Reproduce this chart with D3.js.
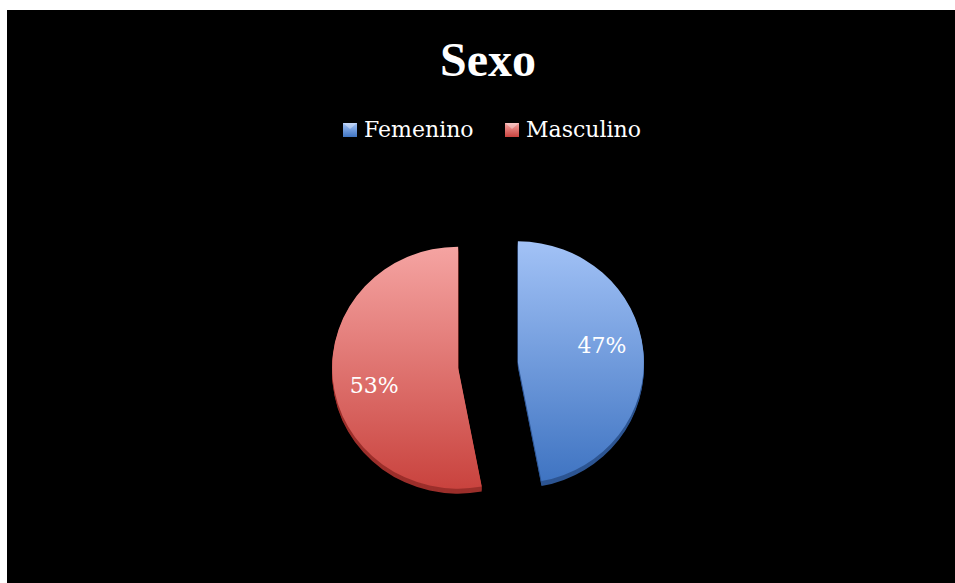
<!DOCTYPE html>
<html>
<head>
<meta charset="utf-8">
<script src="https://cdn.jsdelivr.net/npm/d3@7/dist/d3.min.js"></script>
<style>
  html, body { margin: 0; padding: 0; background: #ffffff; }
  svg { display: block; }
</style>
</head>
<body>
<svg id="chart" width="955" height="583"></svg>
<script>
// Chart data
const title = "Sexo";
const categories = ["Femenino", "Masculino"];
const values = [47, 53];
const labels = ["47%", "53%"];

// Colours: [light top, dark bottom, side]
const palette = {
  "Femenino":  ["#a2c2f6", "#3f74c2", "#2d5592"],
  "Masculino": ["#f5a4a2", "#c9433e", "#9c2f2b"]
};

const W = 955, H = 583;
const svg = d3.select("#chart");

// Dark panel behind the chart
svg.append("rect").attr("x", 7).attr("y", 10)
  .attr("width", W - 7).attr("height", H - 10).attr("fill", "#000");

const defs = svg.append("defs");
categories.forEach((c, i) => {
  const g = defs.append("linearGradient").attr("id", "grad" + i)
    .attr("x1", 0).attr("y1", 0).attr("x2", 0).attr("y2", 1);
  g.append("stop").attr("offset", "0%").attr("stop-color", palette[c][0]);
  g.append("stop").attr("offset", "100%").attr("stop-color", palette[c][1]);
  const m = defs.append("linearGradient").attr("id", "mark" + i)
    .attr("x1", 0).attr("y1", 0).attr("x2", 0).attr("y2", 1);
  m.append("stop").attr("offset", "0%").attr("stop-color", palette[c][0]);
  m.append("stop").attr("offset", "100%").attr("stop-color", palette[c][1]);
});

// Title
svg.append("text")
  .attr("x", 488).attr("y", 76)
  .attr("text-anchor", "middle")
  .attr("font-family", "'Liberation Serif', 'Times New Roman', serif")
  .attr("font-weight", "bold")
  .attr("font-size", 48)
  .attr("fill", "#fff")
  .text(title);

// Legend
const legendFont = "'DejaVu Serif', serif";
const legendX = [343, 505];
const legend = svg.append("g");
categories.forEach((c, i) => {
  const g = legend.append("g").attr("transform", `translate(${legendX[i]},123)`);
  g.append("rect").attr("width", 14).attr("height", 14)
    .attr("fill", `url(#mark${i})`);
  // bevel highlight on the marker
  g.append("path").attr("d", "M0,0 L14,0 L7,6 Z")
    .attr("fill", "#fff").attr("opacity", 0.35);
  g.append("text")
    .attr("x", 21).attr("y", 14)
    .attr("font-family", legendFont)
    .attr("font-size", 22)
    .attr("fill", "#fff")
    .text(c);
});

// Tilted, exploded pie
const cx = 488, cy = 365;
const R = 126, tilt = 0.96, depth = 5, explode = 30;

const pie = d3.pie().sort(null).value(d => d)
  .startAngle(0).endAngle(2 * Math.PI);
const arcs = pie(values);
const arc = d3.arc().innerRadius(0).outerRadius(R);

const pieG = svg.append("g");

arcs.forEach((a, i) => {
  const mid = (a.startAngle + a.endAngle) / 2;
  const ox = explode * Math.sin(mid);
  const oy = -explode * Math.cos(mid) * tilt;
  const sliceG = pieG.append("g")
    .attr("transform", `translate(${cx + ox},${cy + oy})`);

  // side wall
  for (let k = depth; k >= 1; k--) {
    sliceG.append("path")
      .attr("d", arc(a))
      .attr("transform", `translate(0,${k}) scale(1,${tilt})`)
      .attr("fill", palette[categories[i]][2]);
  }
  // top face
  sliceG.append("path")
    .attr("d", arc(a))
    .attr("transform", `scale(1,${tilt})`)
    .attr("fill", `url(#grad${i})`);

  // value label
  const la = mid - 0.12, lr = 86;
  sliceG.append("text")
    .attr("x", lr * Math.sin(la))
    .attr("y", -lr * Math.cos(la) * tilt)
    .attr("dy", "0.36em")
    .attr("text-anchor", "middle")
    .attr("font-family", legendFont)
    .attr("font-size", 22)
    .attr("fill", "#fff")
    .text(labels[i]);
});
</script>
</body>
</html>
